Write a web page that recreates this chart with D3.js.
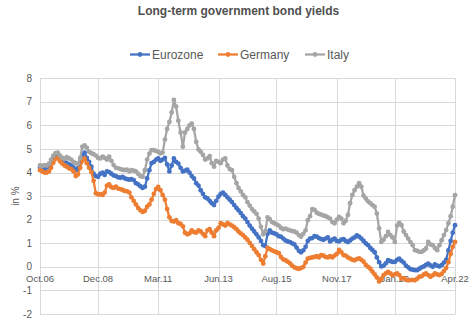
<!DOCTYPE html>
<html><head><meta charset="utf-8">
<script src="https://cdn.jsdelivr.net/npm/d3@7"></script>
<style>body{margin:0;background:#fff;} svg{display:block;font-family:"Liberation Sans",Arial,sans-serif;}</style>
</head><body><div id="chart"></div>
<script>
const title = "Long-term government bond yields";
const seriesNames = ["Eurozone", "Germany", "Italy"];
const seriesColors = ["#4472C4", "#ED7D31", "#A5A5A5"];
const startMonth = "2006-10";
const endMonth = "2022-04";
const xTickMonths = ["2006-10","2008-12","2011-03","2013-06","2015-08","2017-11","2020-01","2022-04"];
const xTickLabels = ["Oct.06","Dec.08","Mar.11","Jun.13","Aug.15","Nov.17","Jan.20","Apr.22"];
const yTicks = [-2,-1,0,1,2,3,4,5,6,7,8];
const yLabel = "in %";

const eurozone = [
 4.20,4.15,4.12,
 4.22,4.30,4.45,4.62,4.72,4.75,4.60,4.52,4.48,4.40,4.35,4.30,
 4.22,4.10,4.18,4.40,4.75,4.85,4.62,4.45,4.25,3.95,3.85,3.82,
 3.95,4.00,3.90,4.05,4.02,3.95,3.88,3.85,3.80,3.78,3.82,3.75,
 3.72,3.70,3.72,3.68,3.55,3.50,3.42,3.35,3.40,3.75,4.10,4.40,
 4.45,4.55,4.60,4.50,4.55,4.62,4.35,4.05,4.30,4.60,4.45,4.38,
 4.20,4.05,4.08,4.12,4.00,3.85,3.75,3.55,3.45,3.25,3.10,2.95,
 2.90,2.80,2.70,2.62,2.80,2.98,3.10,3.15,3.05,2.95,2.85,2.75,
 2.62,2.50,2.40,2.28,2.15,2.05,1.90,1.75,1.62,1.50,1.38,1.25,
 1.10,0.92,0.88,1.40,1.55,1.45,1.42,1.38,1.30,1.28,1.20,1.12,
 1.08,1.05,1.00,0.95,0.82,0.68,0.62,0.70,0.85,1.10,1.20,1.22,
 1.30,1.28,1.22,1.18,1.15,1.20,1.25,1.08,1.15,1.20,1.10,1.08,
 1.15,1.18,1.10,1.05,1.12,1.20,1.25,1.34,1.28,1.20,1.10,1.00,
 0.92,0.80,0.72,0.62,0.40,0.20,0.02,0.05,0.15,0.28,0.24,0.21,
 0.21,0.30,0.35,0.25,0.18,0.05,-0.02,-0.10,-0.12,-0.14,-0.14,-0.08,
 -0.02,0.02,0.08,0.14,0.06,0.00,0.10,0.05,0.02,0.07,0.18,0.30,
 0.70,1.10,1.45,1.77
];
const germany = [
 4.10,4.05,4.00,
 4.00,4.05,4.20,4.42,4.58,4.62,4.48,4.38,4.30,4.25,4.18,4.15,
 4.05,3.85,3.92,4.20,4.50,4.60,4.40,4.20,4.02,3.65,3.12,3.08,
 3.08,3.05,3.15,3.45,3.50,3.38,3.35,3.40,3.32,3.30,3.26,3.22,
 3.20,3.15,2.95,2.80,2.65,2.50,2.40,2.33,2.38,2.55,2.65,2.85,
 3.10,3.30,3.39,3.25,3.05,2.85,2.45,2.10,1.95,1.92,1.98,1.85,
 1.82,1.72,1.45,1.38,1.42,1.55,1.48,1.45,1.55,1.50,1.40,1.30,
 1.55,1.60,1.45,1.30,1.55,1.65,1.85,1.80,1.75,1.85,1.80,1.75,
 1.68,1.60,1.50,1.42,1.35,1.25,1.15,1.02,0.88,0.75,0.62,0.50,
 0.30,0.14,0.45,0.80,0.75,0.70,0.66,0.62,0.58,0.42,0.32,0.28,
 0.22,0.15,0.05,-0.02,-0.06,-0.08,-0.05,0.00,0.18,0.35,0.38,0.40,
 0.42,0.45,0.40,0.50,0.48,0.42,0.40,0.45,0.40,0.48,0.55,0.72,
 0.62,0.50,0.48,0.40,0.35,0.30,0.28,0.33,0.36,0.30,0.22,0.08,
 0.00,-0.08,-0.20,-0.32,-0.45,-0.62,-0.50,-0.35,-0.28,-0.21,-0.28,-0.35,
 -0.32,-0.28,-0.35,-0.50,-0.48,-0.55,-0.57,-0.56,-0.55,-0.57,-0.50,-0.42,
 -0.40,-0.32,-0.28,-0.35,-0.42,-0.36,-0.28,-0.32,-0.35,-0.30,-0.18,-0.05,
 0.20,0.55,0.85,1.06
];
const italy = [
 4.30,4.28,4.32,
 4.30,4.38,4.55,4.72,4.82,4.85,4.72,4.62,4.58,4.65,4.60,4.55,
 4.45,4.40,4.38,4.62,5.10,5.15,5.05,4.88,4.82,4.78,4.72,4.62,
 4.60,4.68,4.62,4.55,4.68,4.50,4.32,4.20,4.18,4.15,4.12,4.10,
 4.12,4.05,4.10,4.08,4.05,3.95,3.85,3.82,4.10,4.55,4.80,4.95,
 4.95,4.92,4.88,4.82,4.85,5.40,5.85,6.15,6.55,7.08,6.80,6.20,
 5.70,5.10,5.70,5.85,6.00,6.08,5.85,5.30,4.98,4.88,4.75,4.55,
 4.60,4.70,4.40,4.25,4.50,4.45,4.40,4.55,4.60,4.30,4.15,4.10,
 3.82,3.55,3.35,3.20,3.05,2.95,2.75,2.60,2.45,2.35,2.25,2.05,
 1.70,1.38,1.50,2.10,2.02,1.90,1.85,1.80,1.75,1.65,1.60,1.62,
 1.58,1.55,1.52,1.50,1.45,1.35,1.28,1.40,1.55,1.98,2.15,2.45,
 2.42,2.30,2.25,2.22,2.18,2.15,2.10,2.05,1.90,1.85,2.00,2.12,
 2.05,1.85,1.95,2.20,2.70,3.05,3.25,3.40,3.55,3.40,3.02,2.90,
 2.78,2.70,2.62,2.55,2.26,1.63,1.06,1.15,1.30,1.48,1.35,1.25,
 1.06,1.75,1.87,1.77,1.50,1.35,1.20,1.05,0.92,0.71,0.68,0.64,
 0.64,0.70,0.78,1.06,0.95,0.92,0.80,0.71,0.92,1.13,1.35,1.56,
 1.85,2.15,2.55,3.04
];
const seriesValues = [eurozone, germany, italy];

const W = 476, H = 323;
const parseM = d3.timeParse("%Y-%m");
const months = d3.timeMonth.range(parseM(startMonth), d3.timeMonth.offset(parseM(endMonth), 1));

const svg = d3.select("#chart").append("svg").attr("width", W).attr("height", H);
const x = d3.scaleTime().domain([parseM(startMonth), parseM(endMonth)]).range([40, 455]);
const y = d3.scaleLinear().domain([-2, 8]).range([314, 78.3]);

const grid = "#d9d9d9", textCol = "#595959";
svg.append("g").selectAll("line").data(yTicks).join("line")
  .attr("x1", 40).attr("x2", 455.5)
  .attr("y1", d => Math.round(y(d)) + 0.5).attr("y2", d => Math.round(y(d)) + 0.5)
  .attr("stroke", grid).attr("stroke-width", 1);
const xt = xTickMonths.map(parseM);
svg.append("g").selectAll("line").data(xt).join("line")
  .attr("x1", d => Math.round(x(d)) + 0.5).attr("x2", d => Math.round(x(d)) + 0.5)
  .attr("y1", y(8)).attr("y2", y(-2))
  .attr("stroke", grid).attr("stroke-width", 1);

svg.append("g").selectAll("text").data(yTicks).join("text")
  .attr("x", 32).attr("y", d => y(d)).attr("dy", "0.35em")
  .attr("text-anchor", "end").attr("font-size", "10px").attr("fill", textCol)
  .text(d => d);
svg.append("g").selectAll("text").data(xt).join("text")
  .attr("x", d => x(d)).attr("y", y(0) + 15)
  .attr("text-anchor", "middle").attr("font-size", "9.5px").attr("fill", textCol)
  .text((d, i) => xTickLabels[i]);

svg.append("text").attr("transform", `translate(19,${(y(8)+y(-2))/2}) rotate(-90)`)
  .attr("text-anchor", "middle").attr("font-size", "10px").attr("fill", textCol).text(yLabel);

const line = d3.line().x((d, i) => x(months[i])).y(d => y(d));
seriesValues.forEach((vals, s) => {
  const g = svg.append("g");
  g.append("path").datum(vals).attr("d", line).attr("fill", "none")
    .attr("stroke", seriesColors[s]).attr("stroke-width", 2.25).attr("stroke-linejoin", "round");
  g.selectAll("circle").data(vals).join("circle")
    .attr("cx", (d, i) => x(months[i])).attr("cy", d => y(d)).attr("r", 2.4)
    .attr("fill", seriesColors[s]);
});

svg.append("text").attr("x", 238.5).attr("y", 15).attr("text-anchor", "middle")
  .attr("font-size", "12px").attr("font-weight", "bold").attr("fill", "#505050").text(title);

const legX = [130, 218, 305];
const lg = svg.append("g");
seriesNames.forEach((n, i) => {
  lg.append("line").attr("x1", legX[i]).attr("x2", legX[i] + 20).attr("y1", 54.5).attr("y2", 54.5)
    .attr("stroke", seriesColors[i]).attr("stroke-width", 2.25);
  lg.append("circle").attr("cx", legX[i] + 10).attr("cy", 54.5).attr("r", 2.4).attr("fill", seriesColors[i]);
  lg.append("text").attr("x", legX[i] + 22).attr("y", 58.5).attr("font-size", "12px").attr("fill", textCol).text(n);
});
</script></body></html>
